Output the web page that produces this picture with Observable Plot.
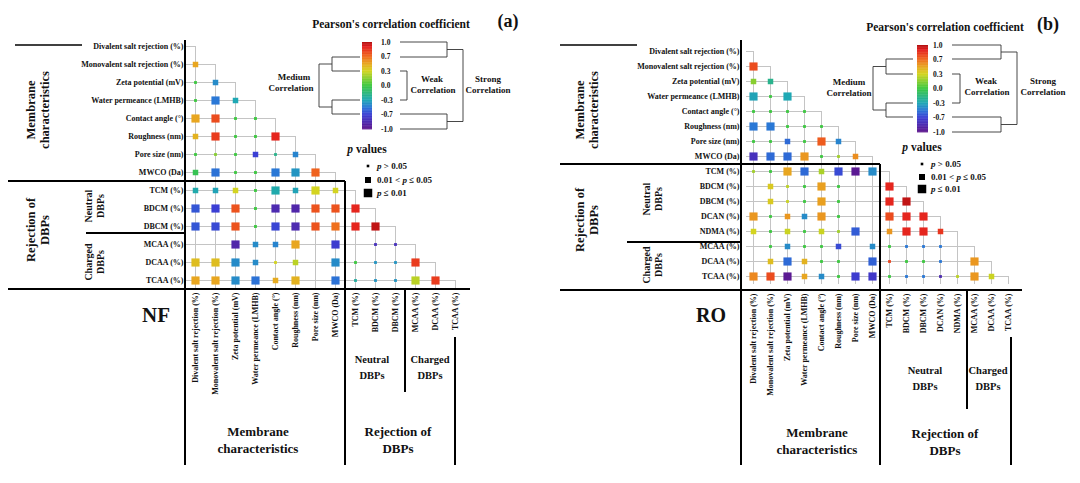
<!DOCTYPE html>
<html><head><meta charset="utf-8">
<script src="https://cdn.jsdelivr.net/npm/d3@7"></script>
<script src="https://cdn.jsdelivr.net/npm/@observablehq/plot@0.6"></script>
<style>
body{margin:0;background:#fff;}
#wrap{display:flex;width:1080px;height:483px;overflow:hidden;}
#wrap svg{overflow:visible;}
</style></head><body><div id="wrap"></div>
<script>
// ---------- DATA ----------
const varsA = ["Divalent salt rejection (%)","Monovalent salt rejection (%)","Zeta potential (mV)","Water permeance (LMHB)","Contact angle (°)","Roughness (nm)","Pore size (nm)","MWCO (Da)","TCM (%)","BDCM (%)","DBCM (%)","MCAA (%)","DCAA (%)","TCAA (%)"];
const varsB = ["Divalent salt rejection (%)","Monovalent salt rejection (%)","Zeta potential (mV)","Water permeance (LMHB)","Contact angle (°)","Roughness (nm)","Pore size (nm)","MWCO (Da)","TCM (%)","BDCM (%)","DBCM (%)","DCAN (%)","NDMA (%)","MCAA (%)","DCAA (%)","TCAA (%)"];

// Pearson r (lower triangle, row i has i values; null = not shown)
const rA = [
  [],
  [0.5],
  [0.0, -0.42],
  [0.0, -0.5, -0.3],
  [0.5, 0.78, 0.0, 0.0],
  [0.45, 0.82, 0.0, 0.0, 0.88],
  [0.0, 0.15, 0.0, -0.7, -0.2, -0.45],
  [-0.05, -0.52, 0.0, 0.0, -0.5, -0.38, 0.72],
  [-0.28, -0.32, 0.3, 0.0, -0.28, -0.32, 0.3, 0.3],
  [-0.62, -0.7, 0.76, 0.0, -0.85, -0.88, 0.76, 0.76, 0.88],
  [-0.62, -0.66, 0.76, 0.0, -0.68, -0.85, 0.76, 0.68, 0.88, 0.97],
  [null, null, -0.88, -0.42, -0.45, 0.5, null, -0.72, null, -0.8, -0.8],
  [0.4, 0.4, -0.42, -0.42, 0.3, 0.25, null, -0.42, 0.0, -0.38, -0.38, 0.82],
  [0.5, 0.5, -0.42, -0.52, 0.48, 0.45, null, -0.52, -0.25, -0.38, -0.38, 0.25, 0.82]
];
// p level: 0 = p>0.05, 1 = 0.01<p<=0.05, 2 = p<=0.01
const pA = [
  [],
  [1],
  [0, 1],
  [0, 2, 1],
  [2, 2, 0, 0],
  [1, 2, 0, 0, 2],
  [0, 0, 0, 1, 0, 1],
  [1, 2, 0, 0, 2, 2, 2],
  [1, 1, 1, 0, 2, 1, 2, 1],
  [2, 2, 2, 0, 2, 2, 2, 2, 2],
  [2, 2, 2, 0, 2, 2, 2, 2, 2, 2],
  [null, null, 2, 1, 1, 2, null, 2, null, 0, 0],
  [2, 2, 2, 1, 0, 1, null, 2, 0, 0, 0, 2],
  [2, 2, 2, 2, 1, 2, null, 2, 0, 0, 0, 2, 2]
];

const rB = [
  [],
  [0.78],
  [0.15, -0.2],
  [-0.32, 0.0, -0.3],
  [0.0, 0.0, 0.0, 0.0],
  [-0.5, -0.5, 0.0, 0.0, 0.0],
  [0.0, 0.0, -0.55, 0.0, 0.74, -0.45],
  [-0.8, -0.55, -0.55, 0.55, 0.0, 0.2, 0.58],
  [0.2, 0.0, 0.5, -0.55, 0.22, -0.66, -0.97, -0.42],
  [null, 0.35, 0.25, 0.0, 0.52, 0.0, null, null, 0.88],
  [null, 0.35, 0.28, 0.0, 0.52, 0.0, null, null, 0.88, 0.97],
  [0.55, 0.0, 0.55, -0.42, 0.55, 0.0, null, null, 0.78, 0.88, 0.88],
  [0.3, 0.0, 0.28, 0.0, 0.28, 0.2, -0.6, null, 0.55, 0.88, 0.88, 0.84],
  [null, 0.0, -0.42, 0.0, 0.0, -0.66, null, -0.42, 0.0, -0.5, -0.5, -0.5],
  [null, 0.4, -0.55, 0.45, 0.0, 0.0, null, -0.58, 0.8, 0.0, 0.0, -0.5, null, 0.55],
  [0.6, 0.78, -0.97, 0.5, -0.42, 0.0, -0.72, -0.75, 0.0, -0.5, -0.5, -0.85, 0.25, 0.55, 0.28]
];
const pB = [
  [],
  [2],
  [1, 1],
  [2, 0, 2],
  [0, 0, 0, 0],
  [2, 2, 0, 0, 0],
  [0, 0, 1, 0, 2, 1],
  [2, 2, 2, 2, 0, 0, 1],
  [0, 0, 2, 2, 1, 2, 2, 2],
  [null, 1, 0, 0, 2, 0, null, null, 2],
  [null, 1, 0, 0, 2, 0, null, null, 2, 2],
  [2, 0, 1, 1, 2, 0, null, null, 2, 2, 2],
  [1, 0, 1, 0, 1, 0, 2, null, 1, 2, 2, 1],
  [null, 0, 1, 0, 0, 1, null, 1, 0, 0, 0, 0],
  [null, 1, 2, 1, 0, 0, null, 2, 0, 0, 0, 0, null, 2],
  [2, 2, 2, 1, 1, 0, 2, 2, 0, 0, 0, 0, 0, 2, 1]
];

const colorStops = [-1, -0.7, -0.5, -0.3, 0, 0.3, 0.5, 0.7, 0.9, 1];
const colorRange = ["#5e168c", "#3b3fd4", "#2a78d6", "#1fa8b4", "#3cc840", "#d4d420", "#e8a620", "#f06a1e", "#e41e1e", "#b01010"];
const barTicks = [1.0, 0.7, 0.3, 0.0, -0.3, -0.7, -1.0];
const barTickLabels = ["1.0", "0.7", "0.3", "0.0", "-0.3", "-0.7", "-1.0"];
const pLevels = [0, 1, 2];

// ---------- DRAWING ----------
const FONT = "Liberation Serif, Times New Roman, serif";
const symR = [1.6, 3.1, 4.6];
const colorOpts = {type: "linear", domain: colorStops, range: colorRange};
const colorScale = Plot.scale({color: colorOpts});

function cells(vars, r, p) {
  const out = [];
  r.forEach((row, i) => row.forEach((v, j) => {
    if (v !== null) out.push({row: vars[i], col: vars[j], r: v, p: p[i][j]});
  }));
  return out;
}

function panel(cfg) {
  const vars = cfg.vars;
  const last = vars[vars.length - 1];
  const data = cells(vars, cfg.r, cfg.p);
  const off = cfg.off;
  const chart = Plot.plot({
    width: 540, height: 483,
    marginLeft: cfg.axisX - off, marginTop: 40, marginRight: 0, marginBottom: 483 - cfg.bottomY,
    x: {type: "point", domain: vars, range: cfg.xRange.map(v => v - off), padding: 0, axis: null},
    y: {type: "point", domain: vars, range: cfg.yRange, padding: 0, axis: null},
    color: colorOpts,
    style: {fontFamily: FONT, fontWeight: "bold", fontSize: "8px", color: "#111", background: "transparent", overflow: "visible"},
    marks: [
      Plot.ruleY(vars, {y: d => d, x1: () => vars[0], x2: d => d, insetLeft: cfg.insL, stroke: "#c4c4c4", strokeWidth: 1}),
      Plot.ruleX(vars, {x: d => d, y1: d => d, y2: () => last, insetBottom: cfg.insB, stroke: "#c4c4c4", strokeWidth: 1}),
      ...pLevels.map(k => Plot.dot(data.filter(d => d.p === k), {x: "col", y: "row", symbol: "square", r: symR[k], fill: "r"})),
      Plot.axisY({anchor: "left", tickSize: 0, tickPadding: 2, fontSize: 8, label: null}),
      Plot.axisX({anchor: "bottom", tickSize: 0, tickPadding: 3, tickRotate: -90, fontSize: 8, label: null})
    ]
  });
  const g = d3.select(chart).append("g").attr("font-family", FONT).attr("font-weight", "bold")
    .attr("fill", "#111").attr("text-anchor", "start");
  for (const [x1, y1, x2, y2, w] of cfg.lines) {
    g.append("line").attr("x1", x1 - off).attr("y1", y1).attr("x2", x2 - off).attr("y2", y2)
      .attr("stroke", "#000").attr("stroke-width", w);
  }
  for (const [x1, y1, x2, y2] of cfg.brackets) {
    g.append("line").attr("x1", x1 - off).attr("y1", y1).attr("x2", x2 - off).attr("y2", y2)
      .attr("stroke", "#333").attr("stroke-width", 0.9);
  }
  for (const [s, x, y, size, anchor, rot] of cfg.texts) {
    const t = g.append("text").attr("font-size", size).attr("text-anchor", anchor || "middle")
      .attr("dominant-baseline", "central").text(s);
    if (rot) t.attr("transform", `translate(${x - off},${y}) rotate(${rot})`);
    else t.attr("x", x - off).attr("y", y);
  }
  // colorbar
  const cb = cfg.cbar;
  const pos = d3.scaleLinear().domain(d3.range(7).map(i => i / 6)).range(barTicks);
  const N = 120, hh = (cb.y2 - cb.y1) / N;
  for (let k = 0; k < N; k++) {
    g.append("rect").attr("x", cb.x1 - off).attr("y", cb.y1 + k * hh).attr("width", cb.x2 - cb.x1).attr("height", hh + 0.4)
      .attr("fill", colorScale.apply(pos((k + 0.5) / N)));
  }
  barTickLabels.forEach((s, i) => {
    g.append("text").attr("x", cb.lx - off).attr("y", cb.y1 + i * (cb.y2 - cb.y1) / 6).attr("font-size", 7.5)
      .attr("text-anchor", "start").attr("dominant-baseline", "central").text(s);
  });
  // p values legend
  const pl = cfg.plegend;
  const ph = g.append("text").attr("x", pl.hx - off).attr("y", pl.hy).attr("font-size", 11.5).attr("text-anchor", "middle").attr("dominant-baseline", "central");
  ph.append("tspan").attr("font-style", "italic").text("p");
  ph.append("tspan").text(" values");
  const items = [[["p", 1], [" > 0.05", 0]], [["0.01 < ", 0], ["p", 1], [" \u2264 0.05", 0]], [["p", 1], [" \u2264 0.01", 0]]];
  const side = [2.6, 6, 8.5];
  items.forEach((it, i) => {
    const y = pl.ys[i];
    g.append("rect").attr("x", pl.sx - off - side[i] / 2).attr("y", y - side[i] / 2).attr("width", side[i]).attr("height", side[i]).attr("fill", "#000");
    const t = g.append("text").attr("x", pl.tx - off).attr("y", y).attr("font-size", 9)
      .attr("text-anchor", "start").attr("dominant-baseline", "central");
    for (const [s, ital] of it) {
      const ts = t.append("tspan").text(s);
      if (ital) ts.attr("font-style", "italic");
    }
  });
  return chart;
}

const panelA = panel({
  off: 0, vars: varsA, r: rA, p: pA,
  axisX: 185, bottomY: 289, xRange: [194, 455], yRange: [45, 280], insL: -9, insB: -9,
  lines: [
    [185, 40, 185, 465, 2], [8, 289, 470, 289, 2], [8, 181, 345, 181, 2], [345, 181, 345, 465, 2],
    [86, 233, 185, 233, 2], [15, 45, 82, 45, 1.5], [405, 290, 405, 392, 2], [455, 337, 455, 465, 2]
  ],
  brackets: [
    [400, 42, 447, 42], [400, 57, 447, 57], [447, 42, 447, 57], [447, 49.5, 463, 49.5],
    [400, 114, 447, 114], [400, 129, 447, 129], [447, 114, 447, 129], [447, 121.5, 463, 121.5], [463, 49.5, 463, 121.5],
    [400, 71, 407, 71], [400, 100, 407, 100], [407, 71, 407, 100],
    [360, 57, 332, 57], [360, 71, 332, 71], [332, 57, 332, 71], [332, 64, 319, 64],
    [360, 100, 332, 100], [360, 114, 332, 114], [332, 100, 332, 114], [332, 107, 319, 107], [319, 64, 319, 107]
  ],
  texts: [
    ["Pearson's correlation coefficient", 391, 24, 11.5], ["(a)", 508, 21, 18],
    ["Weak", 432, 79, 9], ["Correlation", 433, 90, 9],
    ["Strong", 488, 79, 9], ["Correlation", 488, 90, 9],
    ["Medium", 294, 77, 9], ["Correlation", 291, 88, 9],
    ["Membrane", 31, 110, 12.5, "middle", -90], ["characteristics", 45, 110, 12.5, "middle", -90],
    ["Rejection of", 31, 230, 12.5, "middle", -90], ["DBPs", 45, 230, 12.5, "middle", -90],
    ["Neutral", 88, 206, 10, "middle", -90], ["DBPs", 100, 206, 10, "middle", -90],
    ["Charged", 88, 262, 10, "middle", -90], ["DBPs", 100, 262, 10, "middle", -90],
    ["NF", 156, 315, 21],
    ["Neutral", 372, 359, 10.5], ["DBPs", 372, 375, 10.5],
    ["Charged", 430, 359, 10.5], ["DBPs", 430, 375, 10.5],
    ["Membrane", 258, 431, 13], ["characteristics", 258, 448, 13],
    ["Rejection of", 398, 431, 13], ["DBPs", 398, 448, 13]
  ],
  cbar: {x1: 362, x2: 372, y1: 42, y2: 129, lx: 381},
  plegend: {hx: 367, hy: 149, sx: 368, tx: 377, ys: [166, 180, 193]}
});

const panelB = panel({
  off: 540, vars: varsB, r: rB, p: pB,
  axisX: 741, bottomY: 290, xRange: [748, 1012], yRange: [45, 282], insL: -7, insB: -8,
  lines: [
    [741, 40, 741, 465, 2], [560, 290, 1022, 290, 2], [560, 164, 880, 164, 2], [880, 164, 880, 465, 2],
    [627, 242, 741, 242, 2], [560, 45, 637, 45, 1.5], [967, 290, 967, 409, 2], [1011, 337, 1011, 465, 2]
  ],
  brackets: [
    [952, 45, 1001, 45], [952, 59, 1001, 59], [1001, 45, 1001, 59], [1001, 52, 1017, 52],
    [952, 117, 1001, 117], [952, 132, 1001, 132], [1001, 117, 1001, 132], [1001, 124.5, 1017, 124.5], [1017, 52, 1017, 124.5],
    [952, 74, 960, 74], [952, 103, 960, 103], [960, 74, 960, 103],
    [913, 59, 886, 59], [913, 74, 886, 74], [886, 59, 886, 74], [886, 66.5, 873, 66.5],
    [913, 103, 886, 103], [913, 117, 886, 117], [886, 103, 886, 117], [886, 110, 873, 110], [873, 66.5, 873, 110]
  ],
  texts: [
    ["Pearson's correlation coefficient", 945, 27, 11.5], ["(b)", 1048, 24, 18],
    ["Weak", 986, 81, 9], ["Correlation", 987, 92, 9],
    ["Strong", 1043, 81, 9], ["Correlation", 1043, 92, 9],
    ["Medium", 849, 82, 9], ["Correlation", 849, 93, 9],
    ["Membrane", 580, 110, 12.5, "middle", -90], ["characteristics", 594, 110, 12.5, "middle", -90],
    ["Rejection of", 580, 220, 12.5, "middle", -90], ["DBPs", 594, 220, 12.5, "middle", -90],
    ["Neutral", 646, 199, 10, "middle", -90], ["DBPs", 658, 199, 10, "middle", -90],
    ["Charged", 646, 265, 10, "middle", -90], ["DBPs", 658, 265, 10, "middle", -90],
    ["RO", 711, 315, 20],
    ["Neutral", 925, 370, 10.5], ["DBPs", 925, 386, 10.5],
    ["Charged", 988, 370, 10.5], ["DBPs", 988, 386, 10.5],
    ["Membrane", 817, 432, 13], ["characteristics", 817, 449, 13],
    ["Rejection of", 945, 433, 13], ["DBPs", 945, 450, 13]
  ],
  cbar: {x1: 917, x2: 928, y1: 45, y2: 132, lx: 933},
  plegend: {hx: 922, hy: 147, sx: 922, tx: 931, ys: [164, 177, 189]}
});

document.getElementById("wrap").append(panelA, panelB);
</script>
</body></html>
